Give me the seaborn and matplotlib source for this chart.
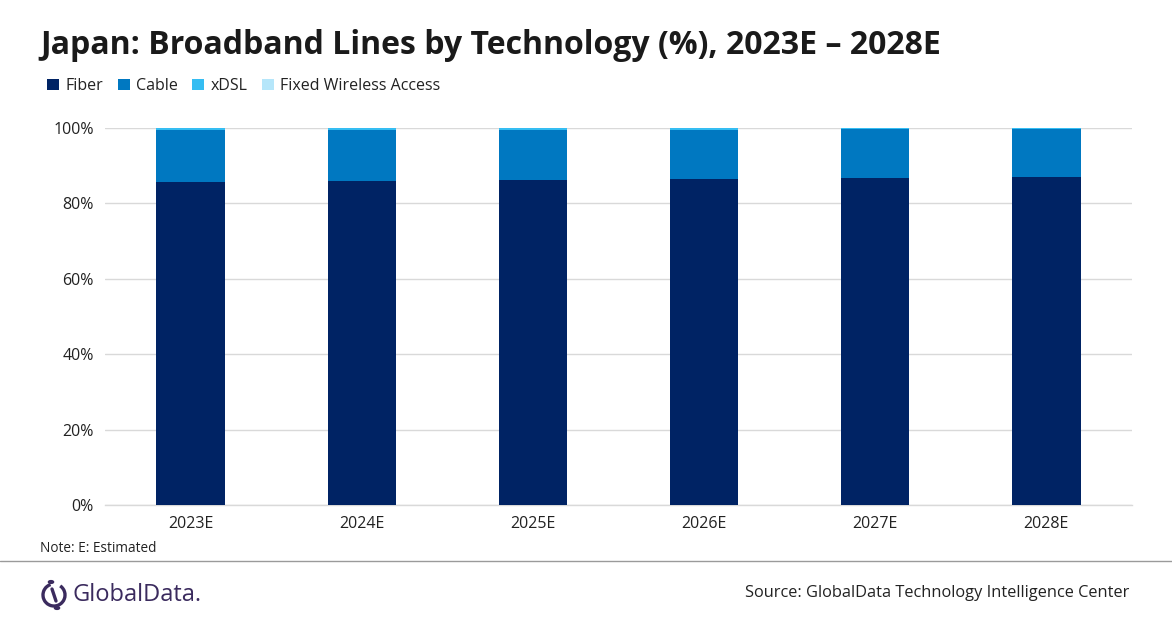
import matplotlib
matplotlib.use("Agg")
import matplotlib.pyplot as plt
import seaborn as sns
import pandas as pd
import numpy as np
from matplotlib.patches import Patch, Arc, Circle

years = ["2023E", "2024E", "2025E", "2026E", "2027E", "2028E"]
fiber = [85.7, 85.9, 86.2, 86.5, 86.7, 87.0]
cable = [13.8, 13.6, 13.3, 13.05, 13.0, 12.75]
xdsl = [0.45, 0.45, 0.45, 0.4, 0.25, 0.2]
fwa = [0.05, 0.05, 0.05, 0.05, 0.05, 0.05]
series_names = ["Fiber", "Cable", "xDSL", "Fixed Wireless Access"]
colors = ["#002364", "#0078C1", "#35BDF2", "#B5E6FA"]

sns.set_theme(style="white")
plt.rcParams['font.family'] = ['Open Sans', 'DejaVu Sans']

df = pd.DataFrame({"year": years, "Fiber": fiber, "Cable": cable,
                   "xDSL": xdsl, "Fixed Wireless Access": fwa})
cum = df[series_names].cumsum(axis=1)

fig = plt.figure(figsize=(11.72, 6.28), dpi=100)
ax = fig.add_axes([105/1172, (628-505)/628, (1132-105)/1172, (505-128)/628])

for name, col in reversed(list(zip(series_names, colors))):
    sns.barplot(x=df["year"], y=cum[name], color=col, width=0.4,
                saturation=1, ax=ax, zorder=3, linewidth=0, edgecolor="none")

ax.set_ylim(0, 100)
ax.set_yticks(np.arange(0, 101, 20))
ax.set_yticklabels([f"{v}%" for v in range(0, 101, 20)], fontsize=11.5, color="#222222")
ax.tick_params(axis="x", labelsize=11.5, colors="#222222", length=0, pad=8)
ax.tick_params(axis="y", length=0, pad=8)
ax.set_xlabel("")
ax.set_ylabel("")
ax.yaxis.grid(True, color="#D9D9D9", linewidth=1, zorder=0)
ax.set_axisbelow(True)
for s in ["top", "right", "left"]:
    ax.spines[s].set_visible(False)
ax.spines["bottom"].set_color("#D9D9D9")
ax.spines["bottom"].set_linewidth(1)

fig.text(40/1172, 1-45/628, "Japan: Broadband Lines by Technology (%), 2023E \u2013 2028E",
         fontsize=23, fontweight="bold", color="#1a1a1a", va="center", ha="left")

handles = [Patch(facecolor=c, edgecolor="none") for c in colors]
fig.legend(handles, series_names, loc="center left", bbox_to_anchor=(33/1172, 1-86/628),
           ncol=4, frameon=False, fontsize=11.5, handlelength=0.75, handleheight=0.75,
           handletextpad=0.4, columnspacing=0.9, labelcolor="#222222")

fig.text(40/1172, 1-549/628, "Note: E: Estimated", fontsize=9.8, color="#222222", va="center")
fig.add_artist(plt.Line2D([0, 1], [1-561/628, 1-561/628], color="#9a9a9a", linewidth=1,
                          transform=fig.transFigure))

# logo
logo_color = "#3B2B5E"
cx, cy = 54/1172, 1-595/628
arc = Arc((cx, cy), 22/1172, 22/628, theta1=100, theta2=430, transform=fig.transFigure,
          edgecolor=logo_color, linewidth=2.4)
fig.add_artist(arc)
fig.add_artist(plt.Line2D([cx - 2/1172, cx + 2/1172], [cy + 6/628, cy - 6/628],
                          color=logo_color, linewidth=2.4, transform=fig.transFigure))
fig.add_artist(Circle((cx - 3/1172, cy + 13/628), 0.0022, transform=fig.transFigure,
                      color=logo_color))
fig.add_artist(Circle((cx + 3/1172, cy - 13/628), 0.0022, transform=fig.transFigure,
                      color=logo_color))
fig.text(72/1172, cy, "GlobalData.", fontsize=17, color=logo_color, va="center", ha="left")

fig.text(1129/1172, 1-593/628, "Source: GlobalData Technology Intelligence Center",
         fontsize=11.8, color="#222222", va="center", ha="right")

fig.savefig("out.png", dpi=100, facecolor="white")
